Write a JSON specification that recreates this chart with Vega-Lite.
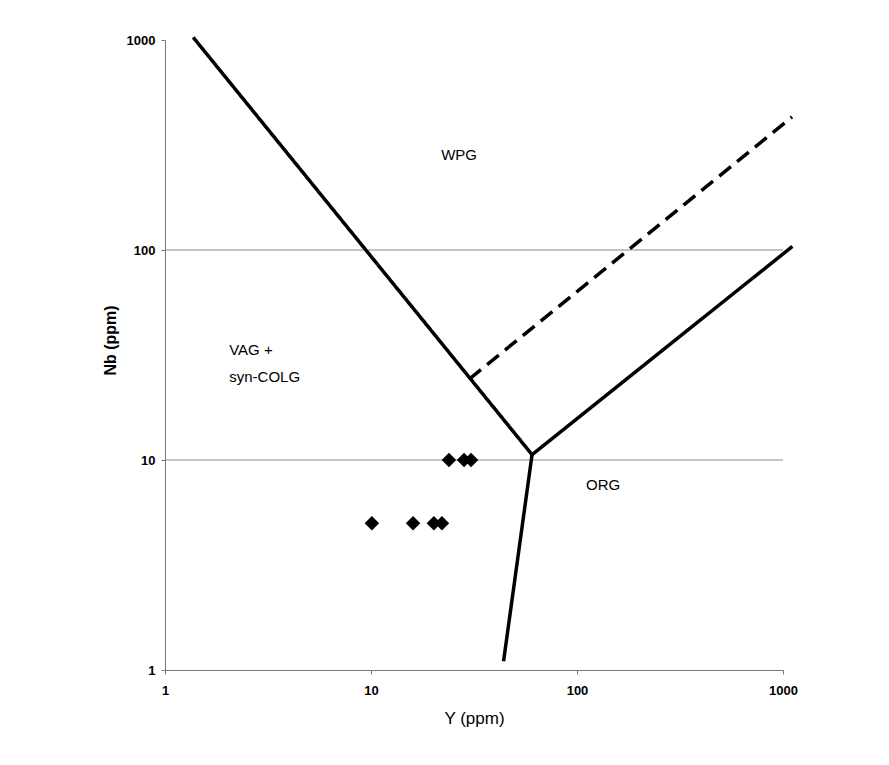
{
  "$schema": "https://vega.github.io/schema/vega-lite/v6.json",
  "width": 618,
  "height": 630,
  "autosize": {"type": "none"},
  "padding": {"left": 165, "top": 40, "right": 106, "bottom": 95},
  "background": "white",
  "config": {
    "view": {"stroke": null},
    "font": "Liberation Sans",
    "axis": {"grid": false, "domainColor": "#777", "domainWidth": 1, "tickColor": "#777", "tickSize": 4, "labelFont": "Liberation Sans", "labelFontSize": 13, "labelFontWeight": "bold", "labelColor": "#000", "titleFont": "Liberation Sans", "titleFontSize": 17, "titleFontWeight": "normal", "titleColor": "#000", "labelFlush": false}
  },
  "datasets": {
    "lines": [
      {"seg": "a", "style": "solid", "ord": 1, "x": 1.37, "y": 1030},
      {"seg": "a", "style": "solid", "ord": 2, "x": 60.5, "y": 10.6},
      {"seg": "b", "style": "solid", "ord": 1, "x": 60.5, "y": 10.6},
      {"seg": "b", "style": "solid", "ord": 2, "x": 44, "y": 1.1},
      {"seg": "c", "style": "solid", "ord": 1, "x": 60.5, "y": 10.6},
      {"seg": "c", "style": "solid", "ord": 2, "x": 1110, "y": 104},
      {"seg": "d", "style": "dashed", "ord": 1, "x": 30, "y": 24.3},
      {"seg": "d", "style": "dashed", "ord": 2, "x": 1106, "y": 430}
    ],
    "points": [
      {"Y": 23.9, "Nb": 10},
      {"Y": 28.3, "Nb": 10},
      {"Y": 30.6, "Nb": 10},
      {"Y": 10.1, "Nb": 5},
      {"Y": 16, "Nb": 5},
      {"Y": 20.2, "Nb": 5},
      {"Y": 22.1, "Nb": 5}
    ],
    "labels": [
      {"x": 21.9, "y": 283, "text": "WPG"},
      {"x": 2.05, "y": 33.4, "text": "VAG +"},
      {"x": 2.05, "y": 24.9, "text": "syn-COLG"},
      {"x": 110.6, "y": 7.6, "text": "ORG"}
    ],
    "grid": [{"y": 10}, {"y": 100}]
  },
  "layer": [
    {
      "data": {"name": "grid"},
      "mark": {"type": "rule", "color": "#888", "strokeWidth": 1},
      "encoding": {
        "y": {"field": "y", "type": "quantitative", "scale": {"type": "log", "domain": [1, 1000]},
              "axis": {"title": "Nb (ppm)", "values": [1, 10, 100, 1000], "format": "d", "labelPadding": 6, "titleX": -47, "titleY": 300, "titleFontWeight": "bold", "titleFontSize": 16}}
      }
    },
    {
      "data": {"name": "lines"},
      "mark": {"type": "line", "color": "black", "strokeWidth": 3.5, "clip": false},
      "encoding": {
        "x": {"field": "x", "type": "quantitative", "scale": {"type": "log", "domain": [1, 1000]},
              "axis": {"title": "Y (ppm)", "values": [1, 10, 100, 1000], "format": "d", "labelPadding": 10, "titlePadding": 13}},
        "y": {"field": "y", "type": "quantitative"},
        "detail": {"field": "seg"},
        "order": {"field": "ord"},
        "strokeDash": {"field": "style", "type": "nominal", "scale": {"domain": ["solid", "dashed"], "range": [[1, 0], [15, 8]]}, "legend": null}
      }
    },
    {
      "data": {"name": "points"},
      "mark": {"type": "point", "shape": "diamond", "filled": true, "color": "black", "size": 210, "opacity": 1},
      "encoding": {
        "x": {"field": "Y", "type": "quantitative"},
        "y": {"field": "Nb", "type": "quantitative"}
      }
    },
    {
      "data": {"name": "labels"},
      "mark": {"type": "text", "fontSize": 15, "font": "Liberation Sans", "color": "#000", "align": "left", "baseline": "middle"},
      "encoding": {
        "x": {"field": "x", "type": "quantitative"},
        "y": {"field": "y", "type": "quantitative"},
        "text": {"field": "text"}
      }
    }
  ]
}
